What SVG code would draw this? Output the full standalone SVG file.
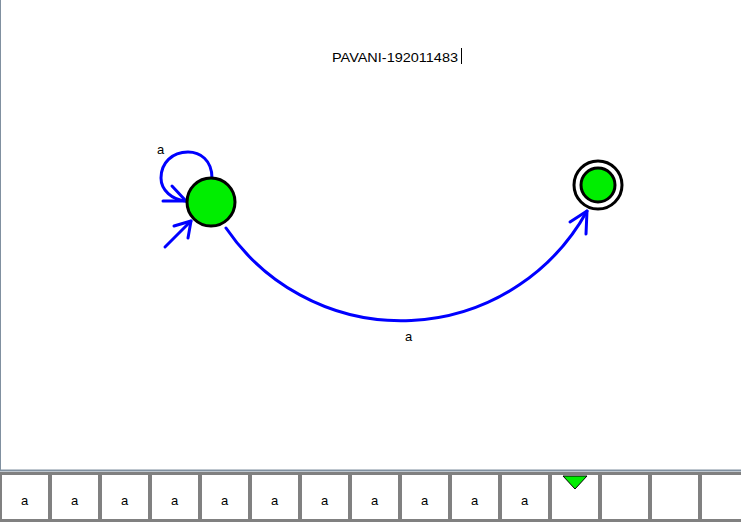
<svg xmlns="http://www.w3.org/2000/svg" width="741" height="522" viewBox="0 0 741 522">
<style>
.lbl{font-family:"Liberation Sans",Arial,sans-serif;font-size:13px;fill:#000}
.edge{fill:none;stroke:#0000ff;stroke-width:3;stroke-linecap:round;stroke-linejoin:round}
.state{fill:#00ee00;stroke:#000;stroke-width:3}
.cell{fill:#fff}
.sep{fill:#808080}
</style>
<rect x="0" y="0" width="741" height="522" fill="#fff"/>
<line x1="0.5" y1="0" x2="0.5" y2="470" stroke="#8090a0" stroke-width="1"/>
<line x1="0" y1="470.5" x2="741" y2="470.5" stroke="#8090a0" stroke-width="2"/>
<g id="title">
<text class="lbl" x="332" y="62" textLength="126" lengthAdjust="spacingAndGlyphs">PAVANI-192011483</text>
<line x1="461.5" y1="48" x2="461.5" y2="64" stroke="#000" stroke-width="1"/>
</g>
<g id="connectors">
<path class="edge" d="M212,178 C212,160 200,152 188,152 C172,152 161,163 161,178 C161,190 172,200 186,201"/>
<path class="edge" d="M163,201 L186,201 L172,186"/>
<path class="edge" d="M165,247 L191,221"/>
<path class="edge" d="M174,226 L191,221 L188,238"/>
<path class="edge" d="M226,228 A212,212 0 0 0 587,211"/>
<path class="edge" d="M570,222 L587,211 L586,234"/>
<text class="lbl" x="157" y="154">a</text>
<text class="lbl" x="405" y="341">a</text>
</g>
<g id="q0">
<circle class="state" cx="211" cy="202" r="24"/>
</g>
<g id="q1">
<circle cx="598" cy="185" r="24" fill="#fff" stroke="#000" stroke-width="3"/>
<circle class="state" cx="598" cy="185" r="17"/>
</g>
<g id="tape">
<rect class="sep" x="0" y="472" width="741" height="3"/>
<rect class="sep" x="0" y="519" width="741" height="3"/>
<rect class="sep" x="0" y="472" width="2" height="50"/>
<rect class="sep" x="48" y="472" width="4" height="50"/>
<rect class="sep" x="98" y="472" width="4" height="50"/>
<rect class="sep" x="148" y="472" width="4" height="50"/>
<rect class="sep" x="198" y="472" width="4" height="50"/>
<rect class="sep" x="248" y="472" width="4" height="50"/>
<rect class="sep" x="298" y="472" width="4" height="50"/>
<rect class="sep" x="348" y="472" width="4" height="50"/>
<rect class="sep" x="398" y="472" width="4" height="50"/>
<rect class="sep" x="448" y="472" width="4" height="50"/>
<rect class="sep" x="498" y="472" width="4" height="50"/>
<rect class="sep" x="548" y="472" width="4" height="50"/>
<rect class="sep" x="598" y="472" width="4" height="50"/>
<rect class="sep" x="648" y="472" width="4" height="50"/>
<rect class="sep" x="698" y="472" width="4" height="50"/>
<text class="lbl" x="21" y="505">a</text>
<text class="lbl" x="71" y="505">a</text>
<text class="lbl" x="121" y="505">a</text>
<text class="lbl" x="171" y="505">a</text>
<text class="lbl" x="221" y="505">a</text>
<text class="lbl" x="271" y="505">a</text>
<text class="lbl" x="321" y="505">a</text>
<text class="lbl" x="371" y="505">a</text>
<text class="lbl" x="421" y="505">a</text>
<text class="lbl" x="471" y="505">a</text>
<text class="lbl" x="521" y="505">a</text>
<polygon points="563,476 587,476 575,489" fill="#00ee00" stroke="#000" stroke-width="1"/>
</g>
</svg>
